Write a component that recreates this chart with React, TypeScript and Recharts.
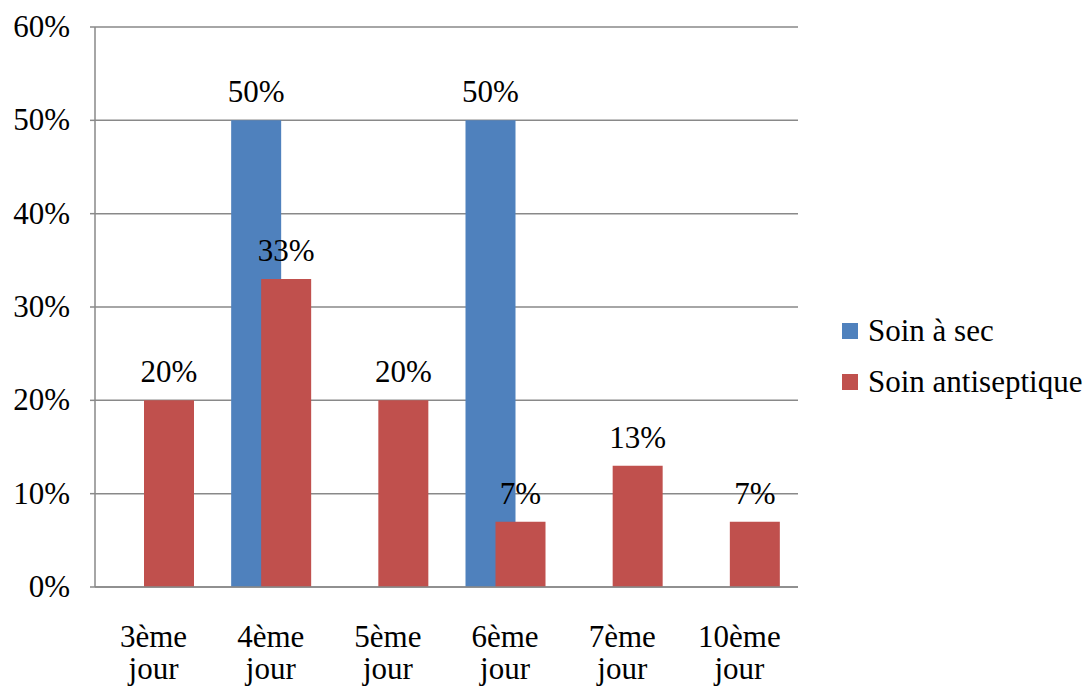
import React from "react";
import { BarChart, Bar, XAxis, YAxis, CartesianGrid, LabelList, Legend } from "recharts";

const categories = ["3ème jour", "4ème jour", "5ème jour", "6ème jour", "7ème jour", "10ème jour"];
const soinASec = [0, 50, 0, 50, 0, 0];
const soinAntiseptique = [20, 33, 20, 7, 13, 7];
const yTicks = [0, 10, 20, 30, 40, 50, 60];
const seriesNames = ["Soin à sec", "Soin antiseptique"];
const colors = ["#4F81BD", "#C0504D"];

const data = categories.map((c, i) => ({ cat: c, a: soinASec[i], b: soinAntiseptique[i] }));

const FONT = "Liberation Serif";
const FS = 31;

const XTick = (props: any) => {
  const { x, y, payload } = props;
  const parts = String(payload.value).split(" ");
  return (
    <g>
      {parts.map((p: string, i: number) => (
        <text key={i} x={x} y={y + 52 + i * 32} textAnchor="middle" fontFamily={FONT} fontSize={FS} fill="#000">
          {p}
        </text>
      ))}
    </g>
  );
};

const YTick = (props: any) => {
  const { x, y, payload } = props;
  return (
    <text x={x} y={y + 10} textAnchor="end" fontFamily={FONT} fontSize={FS} fill="#000">
      {payload.value + "%"}
    </text>
  );
};

const renderLabel = (props: any) => {
  const { x, y, width, value } = props;
  if (!value) return null;
  return (
    <text x={x + width / 2} y={y - 18} textAnchor="middle" fontFamily={FONT} fontSize={FS} fill="#000">
      {value + "%"}
    </text>
  );
};

const LegendContent = () => (
  <div style={{ fontFamily: FONT, fontSize: FS, color: "#000" }}>
    {seriesNames.map((n, i) => (
      <div key={n} style={{ display: "flex", alignItems: "center", height: 51, whiteSpace: "nowrap" }}>
        <div style={{ width: 16, height: 16, background: colors[i], marginRight: 10 }} />
        <span>{n}</span>
      </div>
    ))}
  </div>
);

export default function App() {
  return (
    <div style={{ position: "absolute", left: 0, top: 0, width: 1088, height: 689, background: "#fff", fontFamily: FONT }}>
      <BarChart
        width={1088}
        height={689}
        data={data}
        margin={{ top: 27, right: 290, left: 0, bottom: 0 }}
        barGap={-20}
        barSize={50}
      >
        <CartesianGrid vertical={false} stroke="#898989" strokeWidth={1.5} />
        <XAxis
          dataKey="cat"
          height={102}
          tick={<XTick />}
          tickLine={false}
          axisLine={{ stroke: "#898989", strokeWidth: 1.5 }}
          interval={0}
        />
        <YAxis
          width={95}
          domain={[0, 60]}
          ticks={yTicks}
          tick={<YTick />}
          tickSize={5}
          tickMargin={20}
          tickLine={{ stroke: "#898989", strokeWidth: 1.5 }}
          axisLine={{ stroke: "#898989", strokeWidth: 1.5 }}
        />
        <Legend
          layout="horizontal"
          align="center"
          verticalAlign="middle"
          content={<LegendContent />}
          wrapperStyle={{ position: "absolute", left: 842, top: 305, width: 246 }}
        />
        <Bar dataKey="a" name={seriesNames[0]} fill={colors[0]} isAnimationActive={false}>
          <LabelList dataKey="a" content={renderLabel} />
        </Bar>
        <Bar dataKey="b" name={seriesNames[1]} fill={colors[1]} isAnimationActive={false}>
          <LabelList dataKey="b" content={renderLabel} />
        </Bar>
      </BarChart>
    </div>
  );
}
